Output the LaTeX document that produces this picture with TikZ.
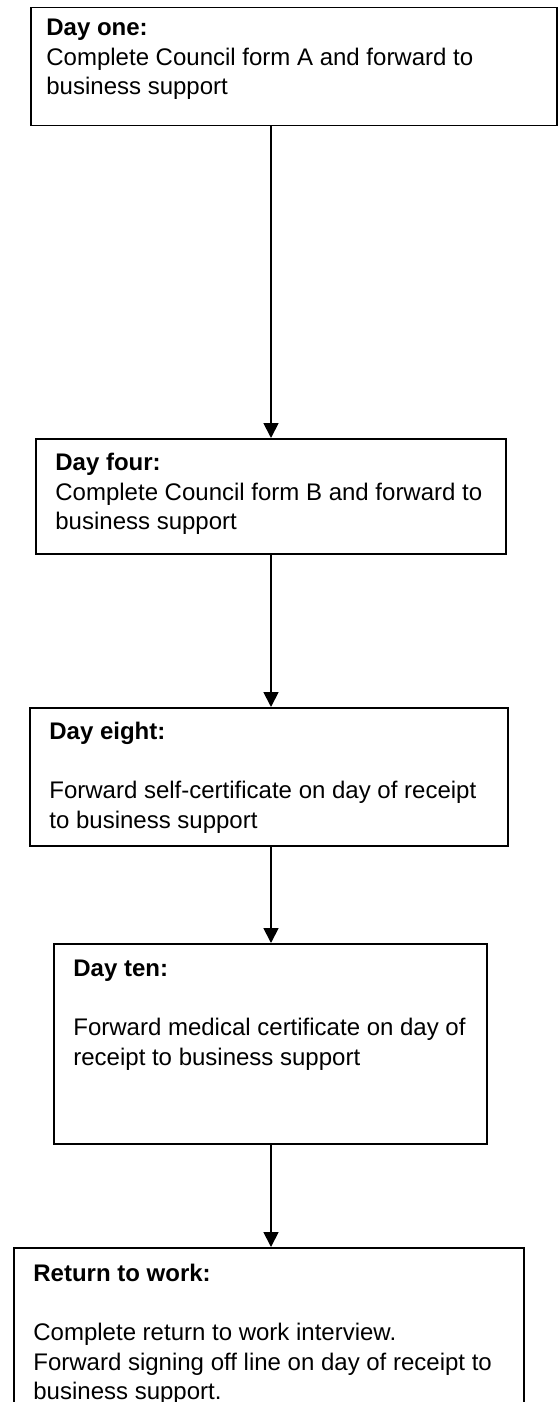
\documentclass[tikz,border=0pt]{standalone}
\usepackage{fontspec}
\setmainfont{Liberation Sans}
\usepackage{tikz}
\usetikzlibrary{arrows.meta,positioning}

\tikzset{
  stepbox/.style={draw, line width=0.75pt, anchor=north west, inner sep=0pt},
  steptext/.style={anchor=north west, align=left, inner sep=0pt},
  flow/.style={line width=0.9pt, -{Triangle[width=7.5pt,length=7.5pt]}}
}

\begin{document}
\begin{tikzpicture}[x=0.5pt, y=-0.5pt, font=\fontsize{12}{14.75}\selectfont]
\useasboundingbox (0,0) rectangle (560,1402);
\clip (0,0) rectangle (560,1402);

% 枠(座標配置)
\node[stepbox, minimum width=263pt, minimum height=59pt]  (one)   at (30,7)    {};
\node[stepbox, minimum width=235pt, minimum height=57.5pt] (four)  at (35,438)  {};
\node[stepbox, minimum width=239pt, minimum height=69pt]  (eight) at (29,707)  {};
\node[stepbox, minimum width=216.5pt, minimum height=100pt] (ten) at (53,943)  {};
\node[stepbox, minimum width=255pt, minimum height=110pt] (back)  at (13,1247) {};

% 本文
\node[steptext] (one-t)   at ([shift={(16,12)}]one.north west)
  {\textbf{Day one:}\\Complete Council form A and forward to\\business support};
\node[steptext] (four-t)  at ([shift={(20,15)}]four.north west)
  {\textbf{Day four:}\\Complete Council form B and forward to\\business support};
\node[steptext] (eight-t) at ([shift={(20,15)}]eight.north west)
  {\textbf{Day eight:}\\[14.75pt]Forward self-certificate on day of receipt\\to business support};
\node[steptext] (ten-t)   at ([shift={(20,17)}]ten.north west)
  {\textbf{Day ten:}\\[14.75pt]Forward medical certificate on day of\\receipt to business support};
\node[steptext] (back-t)  at ([shift={(20,17)}]back.north west)
  {\textbf{Return to work:}\\[14.75pt]Complete return to work interview.\\Forward signing off line on day of receipt to\\business support.};

% 矢印
\coordinate (spine) at (271,0);
\draw[flow] (one.south -| spine)   -- (four.north -| spine);
\draw[flow] (four.south -| spine)  -- (eight.north -| spine);
\draw[flow] (eight.south -| spine) -- (ten.north -| spine);
\draw[flow] (ten.south -| spine)   -- (back.north -| spine);
\end{tikzpicture}
\end{document}
